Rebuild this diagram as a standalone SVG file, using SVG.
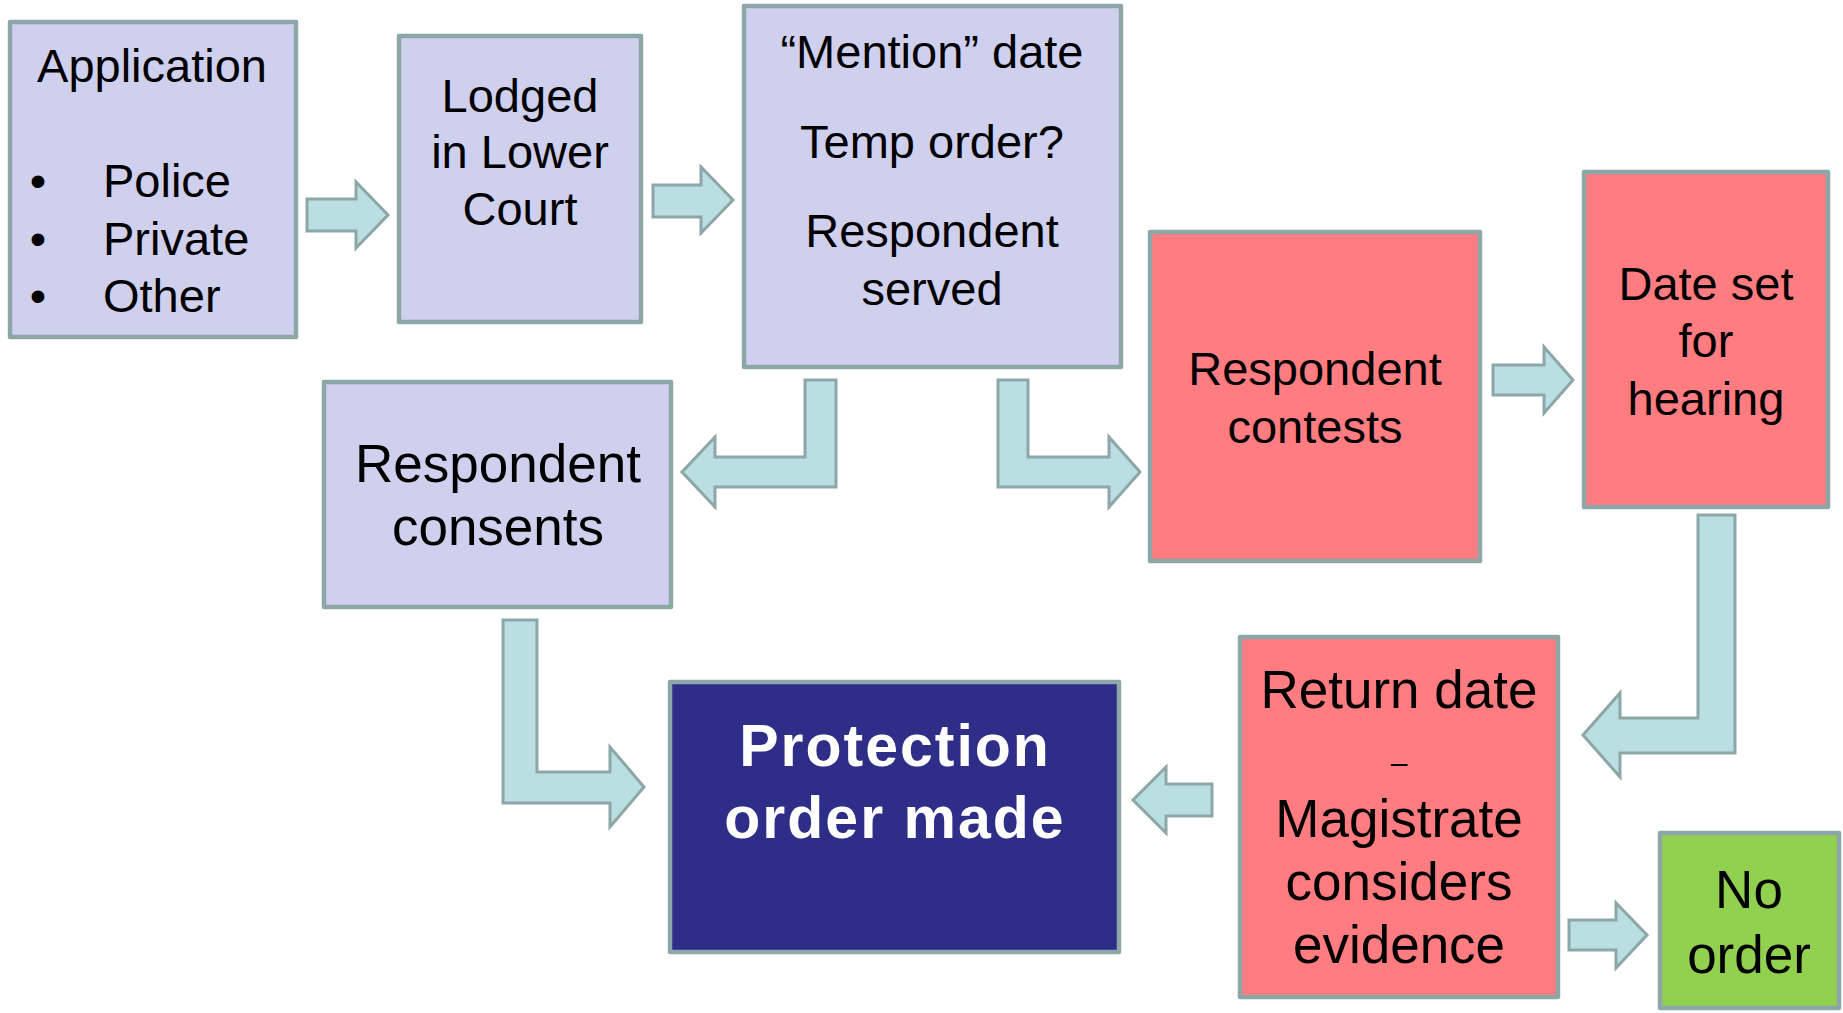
<svg xmlns="http://www.w3.org/2000/svg" width="1843" height="1013" viewBox="0 0 1843 1013">
  <style>
    .box { stroke: #8DA6A8; stroke-width: 4.5; stroke-linejoin: round; }
    .lav { fill: #CFCFEE; }
    .red { fill: #FF7C80; }
    .grn { fill: #92D050; }
    .navy { fill: #2E2E88; }
    .arrow { fill: #B9DFE1; stroke: #8DA6A8; stroke-width: 3; stroke-linejoin: miter; }
    text { font-family: "Liberation Sans", Arial, sans-serif; fill: #000; }
    .t47 { font-size: 47px; }
    .t53 { font-size: 53px; }
    .c { text-anchor: middle; }
    .bold { font-weight: bold; font-size: 59px; fill: #FFFFFF; letter-spacing: 2px; }
  </style>

  <rect width="1843" height="1013" fill="#FFFFFF"/>

  <!-- connectors: block arrows between steps -->
  <g id="connectors">
    <polygon class="arrow" points="307,199 356,199 356,182 388,215 356,248 356,231 307,231"/>
    <polygon class="arrow" points="653,185 701,185 701,167 733,200 701,233 701,217 653,217"/>
    <polygon class="arrow" points="805,380 836,380 836,487 715,487 715,507 682,472 715,437 715,457 805,457"/>
    <polygon class="arrow" points="998,380 1028,380 1028,457 1109,457 1109,437 1140,472 1109,507 1109,487 998,487"/>
    <polygon class="arrow" points="1493,365 1544,365 1544,347 1573,380 1544,413 1544,395 1493,395"/>
    <polygon class="arrow" points="1698,515 1735,515 1735,753 1620,753 1620,777 1583,735 1620,693 1620,718 1698,718"/>
    <polygon class="arrow" points="1212,784 1212,816 1166,816 1166,833 1133,800 1166,767 1166,784"/>
    <polygon class="arrow" points="503,620 537,620 537,772 610,772 610,747 644,787 610,827 610,803 503,803"/>
    <polygon class="arrow" points="1569,920 1616,920 1616,903 1647,935 1616,968 1616,950 1569,950"/>
  </g>

  <g id="application">
    <rect class="box lav" x="10" y="22" width="286" height="315"/>
    <text class="t47 c" x="152" y="82">Application</text>
    <text class="t47 c" x="38" y="197">•</text>
    <text class="t47" x="103" y="197">Police</text>
    <text class="t47 c" x="38" y="255">•</text>
    <text class="t47" x="103" y="255">Private</text>
    <text class="t47 c" x="38" y="312">•</text>
    <text class="t47" x="103" y="312">Other</text>
  </g>

  <g id="lodged">
    <rect class="box lav" x="399" y="36" width="242" height="286"/>
    <text class="t47 c" x="520" y="112">Lodged</text>
    <text class="t47 c" x="520" y="168">in Lower</text>
    <text class="t47 c" x="520" y="225">Court</text>
  </g>

  <g id="mention">
    <rect class="box lav" x="744" y="6" width="377" height="361"/>
    <text class="t47 c" x="932" y="68">“Mention” date</text>
    <text class="t47 c" x="932" y="158">Temp order?</text>
    <text class="t47 c" x="932" y="247">Respondent</text>
    <text class="t47 c" x="932" y="305">served</text>
  </g>

  <g id="consents">
    <rect class="box lav" x="324" y="382" width="347" height="225"/>
    <text class="t53 c" x="498" y="482">Respondent</text>
    <text class="t53 c" x="498" y="545">consents</text>
  </g>

  <g id="contests">
    <rect class="box red" x="1150" y="232" width="330" height="329"/>
    <text class="t47 c" x="1315" y="385">Respondent</text>
    <text class="t47 c" x="1315" y="443">contests</text>
  </g>

  <g id="date-set">
    <rect class="box red" x="1584" y="172" width="244" height="335"/>
    <text class="t47 c" x="1706" y="300">Date set</text>
    <text class="t47 c" x="1706" y="357">for</text>
    <text class="t47 c" x="1706" y="415">hearing</text>
  </g>

  <g id="return-date">
    <rect class="box red" x="1240" y="637" width="318" height="360"/>
    <text class="t53 c" x="1399" y="708">Return date</text>
    <text class="c" x="1399" y="773" font-size="30">–</text>
    <text class="t53 c" x="1399" y="837">Magistrate</text>
    <text class="t53 c" x="1399" y="900">considers</text>
    <text class="t53 c" x="1399" y="963">evidence</text>
  </g>

  <g id="protection-order">
    <rect class="box navy" x="670" y="682" width="449" height="270"/>
    <text class="bold c" x="895" y="766">Protection</text>
    <text class="bold c" x="895" y="838">order made</text>
  </g>

  <g id="no-order">
    <rect class="box grn" x="1660" y="833" width="179" height="175"/>
    <text class="t53 c" x="1749" y="908">No</text>
    <text class="t53 c" x="1749" y="973">order</text>
  </g>
</svg>
